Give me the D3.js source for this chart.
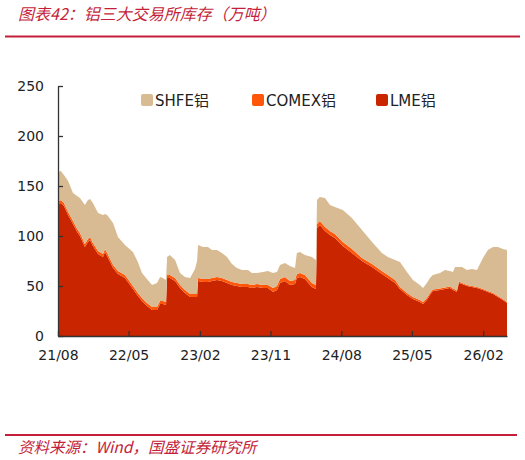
<!DOCTYPE html>
<html><head><meta charset="utf-8">
<script src="https://cdn.jsdelivr.net/npm/d3@7"></script>
<style>
html,body{margin:0;padding:0;background:#fff;}
svg{display:block;}
</style></head>
<body>
<svg id="chart" width="525" height="460"></svg>
<script>
const title = "图表42：铝三大交易所库存（万吨）";
const source = "资料来源：Wind，国盛证券研究所";
const seriesNames = ["LME铝", "COMEX铝", "SHFE铝"];
const legendOrder = ["SHFE铝", "COMEX铝", "LME铝"];
const colors = {"SHFE铝": "#D8BB92", "COMEX铝": "#FF560A", "LME铝": "#C82500"};
const yTicks = [0, 50, 100, 150, 200, 250];
const xTickLabels = ["21/08", "22/05", "23/02", "23/11", "24/08", "25/05", "26/02"];

const dates = ["2021-08-01","2021-08-12","2021-08-24","2021-09-09","2021-09-28","2021-10-14","2021-10-25","2021-11-13","2021-11-25","2021-12-03","2021-12-14",
"2022-01-03","2022-01-22","2022-01-30","2022-02-07","2022-03-02","2022-03-21","2022-04-17","2022-05-18","2022-06-06","2022-06-22","2022-07-11","2022-07-31","2022-08-19","2022-08-31","2022-09-11","2022-09-23","2022-09-27","2022-10-08","2022-10-28","2022-11-16","2022-12-05","2022-12-25",
"2023-01-13","2023-01-21","2023-01-25","2023-02-13","2023-03-04","2023-03-20","2023-04-08","2023-04-27","2023-05-17","2023-06-05","2023-06-24","2023-07-14","2023-08-06","2023-08-21","2023-09-10","2023-10-03","2023-10-22","2023-11-11","2023-11-26","2023-12-08","2023-12-27",
"2024-01-15","2024-02-04","2024-02-11","2024-02-23","2024-03-13","2024-04-09","2024-04-25","2024-04-29","2024-05-10","2024-05-30","2024-06-18","2024-07-07","2024-08-07","2024-09-11","2024-10-20","2024-11-28",
"2025-01-05","2025-01-28","2025-02-25","2025-03-16","2025-04-12","2025-05-05","2025-06-01","2025-06-13","2025-06-28","2025-07-10","2025-07-21","2025-08-18","2025-09-06","2025-09-25","2025-10-07","2025-10-15","2025-10-22","2025-10-30","2025-11-11","2025-11-30","2025-12-19",
"2026-01-08","2026-01-31","2026-02-19","2026-03-11","2026-03-30","2026-04-18","2026-05-04"];

const lme = [131,133,130,121,112,104,100,89,94,96,90,
82,79,84,80,68,62,58,47,40,35,30,26,26,32,32,31,58,58,55,48,43,39,
39,39,55,54,54,55,56,55,53,51,50,49,49,48,49,48,48,44,46,53,55,
51,52,58,59,57,49,47,108,111,105,101,98,90,83,75,69,
62,58,53,47,41,37,34,32,36,41,45,46,47,48,46,45,44,53,52,50,49,
48,46,44,42,39,36,33];

const comex = [3,3,3,3,3,3,3,3,3,3,3,
3,3,3,3,3,3,3,3,3,3,3,3,3,3,3,3,3,3,3,3,3,3,
3,3,3,3,3,3,3,3,3,3,3,3,3,3,3,3,3,4,4,4,4,
4,4,4,4,4,4,4,4,4,4,4,4,4,4,3,3,
3,3,3,2,2,2,2,2,2,2,1.5,1.5,1.5,1.5,1.5,1.5,1.5,1.5,1,1,1,
1,1,1,1,1,1,1];

const shfe = [30,29,28,31,28,33,35,39,39,38,40,
38,39,35,38,42,34,30,34,31,25,24,22,24,24,23,22,18,20,18,12,13,16,
25,33,33,32,32,28,27,25,23,18,15,14,14,12,11,13,14,15,14,14,14,
15,12,21,21,20,26,25,24,24,29,26,27,32,31,28,22,
18,18,20,25,21,17,15,14,15,15,14.5,15.5,17.5,15.5,16.5,22.5,23.5,14.5,16,15,17,
17,31,41,46,49,50,52];

const parse = d3.timeParse("%Y-%m-%d");
const rows = dates.map((d, i) => ({date: parse(d), "LME铝": lme[i], "COMEX铝": comex[i], "SHFE铝": shfe[i]}));

const svg = d3.select("#chart");
const W = 525, H = 460;
const m = {left: 58, right: 18, top: 86, bottom: 124};
const x0 = m.left, x1 = W - m.right, y0 = H - m.bottom, y1 = m.top;

const x = d3.scaleTime().domain([parse("2021-08-01"), parse("2026-05-04")]).range([x0, x1]);
const y = d3.scaleLinear().domain([0, 250]).range([y0, y1]);

// Title
svg.append("text").attr("x", 18).attr("y", 20).text(title)
  .attr("font-family", "'Noto Sans CJK SC', 'Noto Sans', sans-serif").attr("font-size", 16)
  .attr("font-style", "italic").attr("fill", "#C41E3A");
svg.append("line").attr("x1", 5).attr("x2", 520).attr("y1", 36.5).attr("y2", 36.5)
  .attr("stroke", "#C41E3A").attr("stroke-width", 2);

// Stack
const stack = d3.stack().keys(seriesNames);
const layers = stack(rows);
const area = d3.area().x(d => x(d.data.date)).y0(d => y(d[0])).y1(d => y(d[1]));
svg.append("g").selectAll("path").data(layers).join("path")
  .attr("d", area).attr("fill", d => colors[d.key]);

// Axes
const yAxis = d3.axisLeft(y).tickValues(yTicks).tickSizeInner(-5).tickSizeOuter(0).tickPadding(14);
const gy = svg.append("g").attr("transform", `translate(${x0},0)`).call(yAxis);
const tickDates = xTickLabels.map(s => d3.timeParse("%y/%m")(s));
const xAxis = d3.axisBottom(x).tickValues(tickDates).tickFormat(d3.timeFormat("%y/%m"))
  .tickSizeInner(-5).tickSizeOuter(0).tickPadding(14);
const gx = svg.append("g").attr("transform", `translate(0,${y0})`).call(xAxis);
[gx, gy].forEach(g => {
  g.select(".domain").attr("stroke", "#333").attr("stroke-width", 1.3);
  g.selectAll(".tick line").attr("stroke", "#333").attr("stroke-width", 1.3);
  g.selectAll("text").attr("font-family", "'DejaVu Sans', Verdana, sans-serif").attr("font-size", 14).attr("fill", "#222");
});

// Legend
const legX = {"SHFE铝": 141, "COMEX铝": 252, "LME铝": 376};
const leg = svg.append("g");
legendOrder.forEach(k => {
  leg.append("rect").attr("x", legX[k]).attr("y", 94).attr("width", 12).attr("height", 12)
    .attr("rx", 2).attr("fill", colors[k]);
  leg.append("text").attr("x", legX[k] + 14).attr("y", 105.5).text(k)
    .attr("font-family", "'DejaVu Sans', 'Noto Sans CJK SC', sans-serif").attr("font-size", 15).attr("fill", "#222");
});

// Footer
svg.append("line").attr("x1", 5).attr("x2", 517).attr("y1", 435).attr("y2", 435)
  .attr("stroke", "#C41E3A").attr("stroke-width", 2);
svg.append("text").attr("x", 18).attr("y", 453).text(source)
  .attr("font-family", "'Noto Sans CJK SC', 'Noto Sans', sans-serif").attr("font-size", 15.5)
  .attr("font-style", "italic").attr("fill", "#C41E3A");
</script>
</body></html>
